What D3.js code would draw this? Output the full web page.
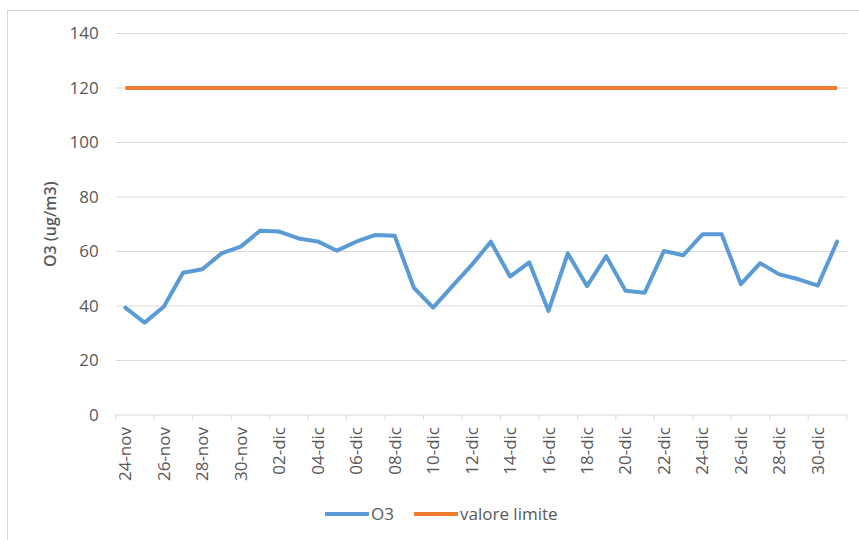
<!DOCTYPE html>
<html><head><meta charset="utf-8">
<script src="https://cdn.jsdelivr.net/npm/d3@7"></script>
<style>body{margin:0;background:#fff}svg{display:block}text{font-family:"Open Sans",sans-serif;fill:#595959}</style>
</head><body><svg id="c" width="859" height="540"></svg>
<script>
const dates = ["24-nov","25-nov","26-nov","27-nov","28-nov","29-nov","30-nov","01-dic","02-dic","03-dic","04-dic","05-dic","06-dic","07-dic","08-dic","09-dic","10-dic","11-dic","12-dic","13-dic","14-dic","15-dic","16-dic","17-dic","18-dic","19-dic","20-dic","21-dic","22-dic","23-dic","24-dic","25-dic","26-dic","27-dic","28-dic","29-dic","30-dic","31-dic"];
const o3 = [39.4,33.9,39.7,52.2,53.5,59.3,61.8,67.6,67.3,64.8,63.7,60.3,63.6,66.1,65.8,46.7,39.4,47.3,55.0,63.6,50.8,56.0,38.2,59.3,47.3,58.3,45.6,44.9,60.2,58.6,66.3,66.3,48.0,55.7,51.6,49.8,47.5,63.6];
const limite = dates.map(() => 120);
const yTicks = [0,20,40,60,80,100,120,140];
const seriesNames = ["O3","valore limite"];
const colors = ["#5B9BD5","#ED7D31"];

const svg = d3.select("#c");
const L = 115.7, R = 846.7, T = 33.5, B = 415;
svg.append("rect").attr("x",7.5).attr("y",10.5).attr("width",900).attr("height",600)
  .attr("fill","none").attr("stroke","#d9d9d9");

const x = d3.scaleBand().domain(dates).range([L,R]).padding(0);
const y = d3.scaleLinear().domain([0,140]).range([B,T]);

// gridlines
svg.append("g").selectAll("line").data(yTicks.filter(d=>d>0)).join("line")
  .attr("x1",L).attr("x2",R).attr("y1",d=>y(d)).attr("y2",d=>y(d))
  .attr("stroke","#d9d9d9").attr("stroke-width",1);

// y axis labels
const ya = svg.append("g").attr("transform",`translate(${L},0)`)
  .call(d3.axisLeft(y).tickValues(yTicks).tickSize(0).tickPadding(17));
ya.select(".domain").remove();
ya.selectAll("text").attr("font-size",17).attr("font-family","Open Sans").attr("fill","#595959");

// x axis
svg.append("line").attr("x1",L).attr("x2",R).attr("y1",B).attr("y2",B).attr("stroke","#d9d9d9");
const tickIdx = d3.range(0, dates.length+1, 2);
svg.append("g").selectAll("line").data(tickIdx).join("line")
  .attr("x1",i=>L + i*x.step()).attr("x2",i=>L + i*x.step())
  .attr("y1",B).attr("y2",B+5).attr("stroke","#d9d9d9");
svg.append("g").selectAll("text").data(dates.filter((d,i)=>i%2===0)).join("text")
  .attr("transform",d=>`translate(${x(d)+x.bandwidth()/2+6},${B+12}) rotate(-90)`)
  .attr("text-anchor","end").attr("font-size",17).text(d=>d);

// lines
const line = d3.line().x((d,i)=>x(dates[i])+x.bandwidth()/2).y(d=>y(d));
svg.append("path").datum(limite).attr("d",line).attr("fill","none")
  .attr("stroke",colors[1]).attr("stroke-width",4);
svg.append("path").datum(o3).attr("d",line).attr("fill","none")
  .attr("stroke",colors[0]).attr("stroke-width",4).attr("stroke-linejoin","round").attr("stroke-linecap","round");

// y title
svg.append("text").attr("transform",`translate(56,${(T+B)/2}) rotate(-90)`)
  .attr("text-anchor","middle").attr("font-size",16).attr("font-weight",600).text("O3 (ug/m3)");

// legend
const lg = svg.append("g");
const lx = [325, 414];
seriesNames.forEach((n,i)=>{
  lg.append("line").attr("x1",lx[i]).attr("x2",lx[i]+44).attr("y1",514).attr("y2",514)
    .attr("stroke",colors[i]).attr("stroke-width",4);
  lg.append("text").attr("x",lx[i]+46).attr("y",520).attr("font-size",17).text(n);
});
</script></body></html>
